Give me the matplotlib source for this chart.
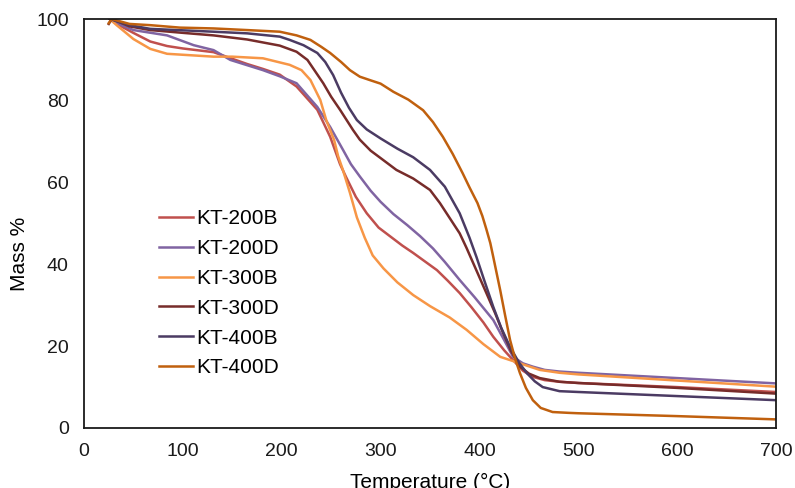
import matplotlib.pyplot as plt

plt.rcParams['font.family'] = ['Liberation Sans', 'DejaVu Sans']

# --- TGA data (temperature in °C, mass in %) ---
t_200b = [26, 33, 50, 67, 84, 100, 131, 165, 181, 198, 215, 236, 249, 259, 265, 275, 286, 298, 310, 322, 333,
          345, 357, 368, 380, 392, 404, 414, 425, 434, 444, 454, 466, 481, 500, 600, 700]
m_200b = [100, 98.8, 96.6, 94.5, 93.4, 92.8, 91.9, 89.0, 87.8, 86.4, 83.5, 77.8, 71.2, 64.5, 61.4, 56.5, 52.5,
          49.0, 46.8, 44.6, 42.8, 40.7, 38.6, 36.0, 33.0, 29.5, 25.8, 22.3, 19.0, 16.6, 14.0, 12.5, 11.7, 11.3,
          11.0, 10.0, 8.8]

t_200d = [26, 33, 50, 84, 111, 131, 148, 181, 198, 215, 236, 249, 262, 270, 279, 290, 300, 313, 327, 340, 353,
          365, 380, 395, 414, 425, 434, 444, 454, 466, 481, 500, 600, 700]
m_200d = [100, 99.0, 97.3, 96.0, 93.6, 92.4, 90.0, 87.5, 86.0, 84.3, 78.5, 73.6, 68.0, 64.5, 61.5, 58.0, 55.3,
          52.3, 49.6, 46.9, 43.9, 40.6, 36.2, 32.0, 26.4, 21.5, 17.4, 15.8, 15.0, 14.2, 13.8, 13.5, 12.2, 10.9]

t_300b = [26, 33, 50, 67, 84, 131, 150, 181, 208, 220, 229, 239, 245, 253, 257, 262, 269, 276, 284, 292, 303,
          317, 333, 350, 370, 387, 404, 421, 441, 461, 481, 500, 600, 700]
m_300b = [100, 98.5, 95.1, 92.7, 91.5, 90.8, 90.8, 90.4, 88.8, 87.5, 85.1, 80.2, 75.3, 70.4, 66.5, 63.0, 57.5,
          51.5, 46.5, 42.2, 39.0, 35.6, 32.5, 29.8, 27.0, 24.0, 20.5, 17.4, 15.8, 14.2, 13.5, 13.1, 11.6, 10.1]

t_300d = [25, 28, 46, 67, 101, 131, 165, 198, 215, 226, 242, 250, 259, 272, 279, 290, 300, 316, 333, 350, 360,
          380, 387, 397, 407, 416, 424, 432, 441, 450, 461, 481, 500, 600, 700]
m_300d = [98.8, 100, 98.2, 97.3, 96.6, 96.0, 95.0, 93.5, 92.0, 90.0, 84.3, 81.0, 77.8, 72.9, 70.5, 67.8, 66.0,
          63.1, 61.0, 58.2, 55.0, 47.6, 44.0, 38.5, 33.0, 28.0, 23.2, 18.8, 15.0, 13.3, 12.2, 11.3, 11.0, 9.8, 8.4]

t_400b = [26, 46, 67, 131, 165, 198, 208, 222, 236, 244, 252, 260, 268, 276, 286, 300, 317, 333, 350, 365, 380,
          390, 397, 405, 414, 422, 431, 440, 448, 456, 464, 481, 500, 600, 700]
m_400b = [100, 98.5, 97.6, 96.9, 96.5, 95.7, 94.9, 93.6, 91.7, 89.5, 86.3, 82.0, 78.3, 75.3, 73.0, 70.8, 68.3,
          66.2, 63.1, 59.0, 52.5, 46.5, 41.8, 36.0, 29.6, 24.5, 19.8, 16.0, 13.4, 11.4, 10.0, 9.0, 8.8, 7.8, 6.8]

t_400d = [25, 28, 46, 67, 97, 131, 165, 198, 215, 229, 240, 249, 260, 269, 279, 290, 300, 313, 328, 343, 353,
          363, 373, 383, 390, 398, 403, 407, 411, 414, 421, 426, 431, 436, 441, 447, 454, 462, 474, 490, 500,
          600, 700]
m_400d = [99.0, 100, 98.8, 98.5, 97.9, 97.7, 97.3, 96.9, 96.0, 94.9, 93.2, 91.7, 89.5, 87.5, 85.9, 85.0, 84.2,
          82.2, 80.3, 77.7, 74.8, 71.2, 67.0, 62.3, 58.8, 55.0, 51.8, 48.6, 45.2, 41.8, 33.7, 27.5, 21.5, 17.0,
          13.4, 9.8, 6.8, 4.9, 3.9, 3.7, 3.6, 2.9, 2.1]

samples = ['KT-200B', 'KT-200D', 'KT-300B', 'KT-300D', 'KT-400B', 'KT-400D']
temps = [t_200b, t_200d, t_300b, t_300d, t_400b, t_400d]
masses = [m_200b, m_200d, m_300b, m_300d, m_400b, m_400d]
colors = ['#C0504D', '#8064A2', '#F79646', '#772C2A', '#4B3B63', '#C0600E']

fig = plt.figure(figsize=(7.95, 4.88), dpi=100)
ax = fig.add_axes([0.1057, 0.123, 0.8704, 0.838])

for name, t, m, c in zip(samples, temps, masses, colors):
    ax.plot(t, m, color=c, lw=1.8, label=name, solid_joinstyle='round')

ax.set_xlim(0, 700)
ax.set_ylim(0, 100)
ax.set_xticks(range(0, 701, 100))
ax.set_yticks(range(0, 101, 20))
ax.tick_params(length=0, labelsize=14, colors='#1a1a1a', pad=11)
for s in ax.spines.values():
    s.set_linewidth(1.3)
    s.set_color('#1a1a1a')

# x label sits partly below the canvas, as in the original export
ax.set_xlabel('Temperature (°C)', fontsize=15, labelpad=9)
ax.set_ylabel('Mass %', fontsize=15)
ax.yaxis.set_label_coords(-0.080, 0.425)

ax.legend(loc='upper left', bbox_to_anchor=(0.108, 0.535), frameon=False, fontsize=15,
          handlelength=1.63, handletextpad=0.18, labelspacing=0.52, borderpad=0, borderaxespad=0)

fig.savefig('out.png', dpi=100)
